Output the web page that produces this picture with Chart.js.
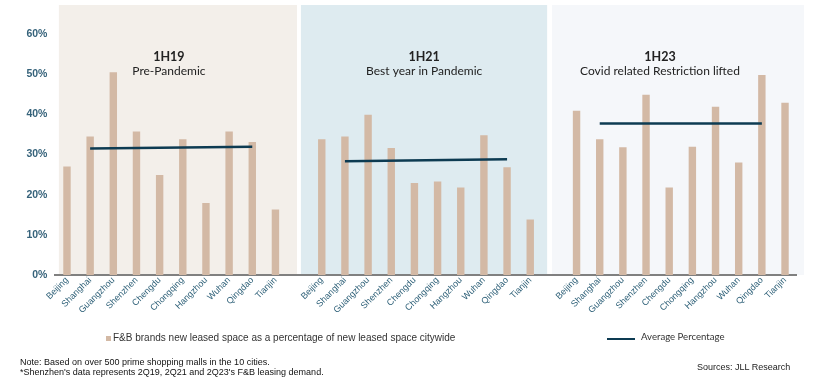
<!DOCTYPE html>
<html><head><meta charset="utf-8">
<script src="https://cdn.jsdelivr.net/npm/chart.js@4"></script>
<style>
html,body{margin:0;padding:0;background:#fff;}
#wrap{position:relative;width:833px;height:380px;overflow:hidden;}
canvas{position:absolute;left:0;top:0;}
.t{position:absolute;white-space:nowrap;}
</style></head><body>
<div id="wrap">
<canvas id="c" width="833" height="380"></canvas>
<div class="t" style="left:106px;top:336px;width:5px;height:5px;background:#d3b9a5;"></div>
<div class="t" style="left:113px;top:332px;line-height:14px;font:10px Arial, 'Liberation Sans', sans-serif;color:#333;">F&amp;B brands new leased space as a percentage of new leased space citywide</div>
<div class="t" style="left:607px;top:337.5px;width:28px;height:2.5px;background:#0d3b52;"></div>
<div class="t" style="left:641px;top:331px;line-height:14px;font:9.6px Lato, sans-serif;color:#333;">Average Percentage</div>
<div class="t" style="left:20px;top:357px;line-height:10px;font:9px Arial, 'Liberation Sans', sans-serif;color:#111;">Note: Based on over 500 prime shopping malls in the 10 cities.<br>*Shenzhen's data represents 2Q19, 2Q21 and 2Q23's F&amp;B leasing demand.</div>
<div class="t" style="left:697px;top:362px;line-height:12px;font:9px Arial, 'Liberation Sans', sans-serif;color:#222;">Sources: JLL Research</div>
</div>
<script>
const cities = ['Beijing','Shanghai','Guangzhou','Shenzhen','Chengdu','Chongqing','Hangzhou','Wuhan','Qingdao','Tianjin'];
const periods = ['1H19','1H21','1H23'];
const subtitles = ['Pre-Pandemic','Best year in Pandemic','Covid related Restriction lifted'];
const share1H19 = [27.0,34.5,50.5,35.7,24.9,33.8,17.9,35.7,33.1,16.3];
const share1H21 = [33.8,34.5,39.9,31.6,22.9,23.3,21.8,34.8,26.8,13.8];
const share1H23 = [40.9,33.8,31.8,44.9,21.8,31.9,41.9,28.0,49.8,42.9];
const avg1H19 = [31.5,31.9];
const avg1H21 = [28.3,28.8];
const avg1H23 = [37.7,37.7];
const yTicks = [0,10,20,30,40,50,60];

const labels = [...cities, '', ...cities, '', ...cities];
const barData = [...share1H19, null, ...share1H21, null, ...share1H23];
function avgSeries(avg, p){
  const arr = new Array(labels.length).fill(null);
  const o = p * 11;
  arr[o+1] = avg[0];
  arr[o+8] = avg[1];
  return arr;
}
const avgs = [avg1H19, avg1H21, avg1H23];

const panelRanges = [[-0.35, 9.93],[10.1, 20.73],[20.94, 31.82]];
const panelColors = ['#f3efea','#deebf0','#f5f7fa'];
const titleX = [4.4, 15.42, 25.6];

const panelPlugin = {
  id:'panels',
  beforeDraw(chart){
    const {ctx, chartArea, scales:{x}} = chart;
    ctx.save();
    panelRanges.forEach((r,i)=>{
      const x1 = x.getPixelForValue(r[0]);
      const x2 = x.getPixelForValue(r[1]);
      ctx.fillStyle = panelColors[i];
      ctx.fillRect(x1, chartArea.top - 29, x2 - x1, chartArea.bottom - chartArea.top + 29);
    });
    ctx.restore();
  },
  afterDraw(chart){
    const {ctx, scales:{x}} = chart;
    ctx.save();
    ctx.textAlign = 'center';
    ctx.textBaseline = 'middle';
    ctx.fillStyle = '#222';
    periods.forEach((p,i)=>{
      const cx = x.getPixelForValue(titleX[i]);
      ctx.font = 'bold 12.5px Lato, sans-serif';
      ctx.fillText(p, cx, 57);
      ctx.font = '12px Lato, sans-serif';
      ctx.fillText(subtitles[i], cx, 71);
    });
    ctx.restore();
  }
};

const datasets = [
  {type:'bar', label:'F&B brands new leased space as a percentage of new leased space citywide', data:barData,
   backgroundColor:'#d3b9a5', barPercentage:0.32, categoryPercentage:1, order:1}
];
avgs.forEach((a,p)=>{
  datasets.push({type:'line', label:'Average Percentage', data:avgSeries(a,p), borderColor:'#0d3b52',
    borderWidth:2.5, pointRadius:0, spanGaps:true, order:0, fill:false});
});

new Chart(document.getElementById('c'), {
  type:'bar',
  data:{labels, datasets},
  options:{
    responsive:false, animation:false, devicePixelRatio:1,
    layout:{padding:{top:34, right:36.4, bottom:0, left:0}},
    plugins:{legend:{display:false}, tooltip:{enabled:false}},
    scales:{
      x:{
        grid:{display:false, drawTicks:false},
        border:{display:true, color:'#808080', width:2},
        ticks:{autoSkip:false, minRotation:45, maxRotation:45, padding:0,
          color:'#2e6078', font:{family:'Arial', size:9}},
        afterFit(s){ s.height = 105; }
      },
      y:{
        min:0, max:60,
        grid:{display:false, drawTicks:false},
        border:{display:false},
        afterBuildTicks(s){ s.ticks = yTicks.map(v=>({value:v})); },
        ticks:{padding:8, color:'#35627a', font:{family:'Arial', size:10.5, weight:'bold'},
          callback:v=>v+'%'},
        afterFit(s){ s.width = 55.4; }
      }
    }
  },
  plugins:[panelPlugin]
});
</script>
</body></html>
